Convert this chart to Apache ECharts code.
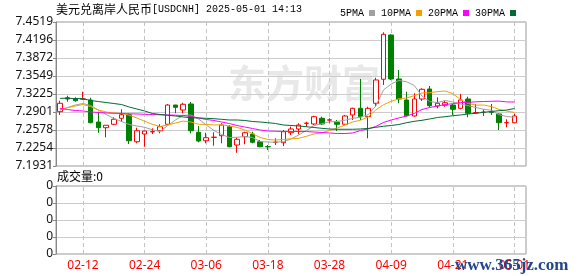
<!DOCTYPE html>
<html><head><meta charset="utf-8">
<script src="https://cdn.jsdelivr.net/npm/echarts/dist/echarts.min.js"></script>
<style>html,body{margin:0;padding:0;background:#fff}#c{width:578px;height:276px}</style>
</head><body><div id="c"></div>
<script>
// ---- data ----
const dates = ['02-07','02-10','02-11','02-12','02-13','02-14','02-17','02-18','02-19','02-20','02-21','02-24','02-25','02-26','02-27','02-28',
'03-03','03-04','03-05','03-06','03-07','03-10','03-11','03-12','03-13','03-14','03-17','03-18','03-19','03-20','03-21','03-24','03-25','03-26','03-27','03-28','03-31',
'04-01','04-02','04-03','04-04','04-07','04-08','04-09','04-10','04-11','04-14','04-15','04-16','04-17','04-18','04-21','04-22','04-23','04-24','04-25','04-28','04-29','04-30',
'05-01',''];
const openP  = [7.2907,7.3158,7.3135,7.3132,7.3117,7.2722,7.2619,7.2681,7.2789,7.2853,7.2367,7.2506,7.2545,7.2565,7.2681,7.3027,7.2937,7.3045,7.2537,7.2385,
7.2445,7.2475,7.2637,7.2308,7.2457,7.2506,7.2367,7.2280,7.2355,7.2349,7.2529,7.2596,7.2697,7.2686,7.2789,7.2756,7.2717,7.2681,7.2848,7.2968,
7.2817,7.3058,7.3490,7.4285,7.3495,7.3117,7.2830,7.3135,7.3315,7.3009,7.3022,7.3027,7.2968,7.3135,7.2887,7.2895,7.2899,7.2866,7.2707,7.2709];
const closeP = [7.3058,7.3135,7.3104,7.3137,7.2709,7.2619,7.2663,7.2771,7.2853,7.2385,7.2565,7.2560,7.2549,7.2637,7.3027,7.2986,7.3040,7.2565,7.2380,7.2439,
7.2449,7.2668,7.2277,7.2411,7.2529,7.2357,7.2277,7.2276,7.2359,7.2547,7.2596,7.2668,7.2701,7.2817,7.2686,7.2760,7.2681,7.2830,7.2968,7.2817,
7.2968,7.3477,7.4298,7.3495,7.3135,7.2835,7.3135,7.3310,7.3015,7.3058,7.3068,7.2950,7.3117,7.2879,7.2891,7.2899,7.2895,7.2709,7.2711,7.2830];
const lowP   = [7.2848,7.3086,7.3086,7.3117,7.2699,7.2529,7.2447,7.2668,7.2727,7.2326,7.2339,7.2277,7.2506,7.2519,7.2668,7.2879,7.2879,7.2519,7.2357,7.2339,
7.2295,7.2339,7.2267,7.2169,7.2321,7.2339,7.2267,7.2218,7.2308,7.2290,7.2488,7.2501,7.2637,7.2668,7.2668,7.2699,7.2560,7.2668,7.2758,7.2758,
7.2429,7.2996,7.3387,7.3477,7.3058,7.2817,7.2817,7.3099,7.2978,7.2968,7.2996,7.2848,7.2950,7.2807,7.2866,7.2830,7.2848,7.2578,7.2627,7.2709];
const highP  = [7.3104,7.3194,7.3166,7.3266,7.3158,7.2907,7.2666,7.2807,7.2950,7.2879,7.2619,7.2563,7.2609,7.2681,7.3045,7.3030,7.3068,7.3081,7.2650,7.2529,
7.2537,7.2699,7.2668,7.2447,7.2547,7.2547,7.2398,7.2308,7.2429,7.2578,7.2637,7.2699,7.2727,7.2835,7.2817,7.2789,7.2758,7.2848,7.2978,7.3495,
7.2996,7.3518,7.4334,7.4298,7.3656,7.3266,7.3238,7.3328,7.3369,7.3166,7.3104,7.3045,7.3225,7.3176,7.3045,7.2950,7.3045,7.2879,7.2771,7.2866];
const ma5  = [7.2937,7.2982,7.3027,7.3054,7.3018,7.2937,7.2857,7.2785,7.2731,7.2677,7.2650,7.2627,7.2582,7.2551,7.2659,7.2758,7.2839,7.2848,7.2776,7.2668,
7.2569,7.2497,7.2443,7.2447,7.2461,7.2443,7.2371,7.2362,7.2359,7.2368,7.2416,7.2488,7.2569,7.2659,7.2691,7.2725,7.2731,7.2754,7.2785,7.2808,
7.2851,7.3009,7.3297,7.3405,7.3468,7.3446,7.3378,7.3189,7.3090,7.3070,7.3108,7.3081,7.3045,7.3015,7.2982,7.2950,7.2934,7.2853,7.2821,7.2808];
const ma10 = [7.2937,7.2979,7.3009,7.3036,7.2997,7.2937,7.2902,7.2884,7.2875,7.2844,7.2794,7.2736,7.2681,7.2641,7.2668,7.2704,7.2738,7.2722,7.2681,7.2679,
7.2668,7.2672,7.2650,7.2625,7.2578,7.2512,7.2443,7.2407,7.2398,7.2407,7.2422,7.2429,7.2465,7.2508,7.2528,7.2569,7.2614,7.2668,7.2722,7.2753,
7.2812,7.2937,7.3031,7.3094,7.3139,7.3153,7.3196,7.3243,7.3248,7.3268,7.3279,7.3231,7.3126,7.3054,7.3025,7.3027,7.3000,7.2948,7.2918,7.2894];
const ma20 = [7.2964,7.2946,7.2928,7.2920,7.2902,7.2893,7.2884,7.2878,7.2875,7.2869,7.2866,7.2860,7.2857,7.2851,7.2848,7.2844,7.2839,7.2821,7.2794,7.2767,
7.2749,7.2722,7.2695,7.2659,7.2632,7.2605,7.2578,7.2560,7.2555,7.2551,7.2551,7.2551,7.2551,7.2542,7.2533,7.2524,7.2515,7.2515,7.2524,7.2569,
7.2596,7.2641,7.2713,7.2758,7.2794,7.2830,7.2875,7.2946,7.2982,7.3009,7.3036,7.3051,7.3070,7.3074,7.3085,7.3090,7.3094,7.3097,7.3083,7.3081];
const ma30 = [7.3148,7.3148,7.3144,7.3141,7.3108,7.3090,7.3072,7.3054,7.3036,7.2991,7.2955,7.2920,7.2875,7.2857,7.2842,7.2830,7.2812,7.2799,7.2794,7.2788,
7.2781,7.2770,7.2758,7.2758,7.2749,7.2731,7.2722,7.2709,7.2695,7.2668,7.2659,7.2650,7.2637,7.2623,7.2608,7.2596,7.2591,7.2591,7.2591,7.2596,
7.2605,7.2627,7.2645,7.2659,7.2677,7.2709,7.2734,7.2752,7.2776,7.2803,7.2817,7.2835,7.2848,7.2866,7.2878,7.2896,7.2911,7.2925,7.2937,7.2964];
const volume = [0,0,0,0,0,0,0,0,0,0,0,0,0,0,0,0,0,0,0,0,0,0,0,0,0,0,0,0,0,0,0,0,0,0,0,0,0,0,0,0,0,0,0,0,0,0,0,0,0,0,0,0,0,0,0,0,0,0,0,0];
const tickDates = ['02-12','02-24','03-06','03-18','03-28','04-09','04-21','05-01'];
const yTickLabels = ['7.1931','7.2254','7.2578','7.2901','7.3225','7.3549','7.3872','7.4196','7.4519'];
const volTickLabels = ['0','0','0','0','0'];
const yMin = 7.1931, yMax = 7.4519;

// ---- chart ----
const yStep = (yMax - yMin) / (yTickLabels.length - 1);
const candles = openP.map((o, i) => [o, closeP[i], lowP[i], highP[i]]);
const vLines = {
  silent: true, z: 1, symbol: ['none', 'none'], label: { show: false },
  lineStyle: { color: '#c4c4c4', type: [4, 3], width: 1 },
  emphasis: { disabled: true },
  data: tickDates.map(d => ({ xAxis: d }))
};
const chart = echarts.init(document.getElementById('c'), null, { renderer: 'canvas' });
const maLine = (name, data, color) => ({
  name, type: 'line', data, xAxisIndex: 0, yAxisIndex: 0, z: 3,
  showSymbol: false, symbol: 'none', smooth: false,
  lineStyle: { color, width: 1 }, itemStyle: { color }
});
chart.setOption({
  animation: false,
  backgroundColor: '#ffffff',
  legend: {
    left: 335, top: 3, align: 'right', icon: 'rect', itemWidth: 6, itemHeight: 6, itemGap: 6,
    textStyle: { fontFamily: 'Liberation Mono', fontSize: 10, color: '#000' },
    data: ['5PMA', '10PMA', '20PMA', '30PMA']
  },
  grid: [
    { left: 56, top: 22, width: 470, height: 144, show: true, borderColor: '#999999', borderWidth: 1 },
    { left: 56, top: 186, width: 470, height: 68, show: true, borderColor: '#999999', borderWidth: 1 }
  ],
  xAxis: [
    { type: 'category', gridIndex: 0, data: dates, boundaryGap: true,
      axisLine: { show: false }, axisTick: { show: false }, axisLabel: { show: false }, splitLine: { show: false } },
    { type: 'category', gridIndex: 1, data: dates, boundaryGap: true,
      axisLine: { show: false }, axisTick: { show: false }, splitLine: { show: false },
      axisLabel: { color: '#ff0000', fontSize: 12, fontFamily: 'Noto Sans', margin: 6,
        interval: (i, v) => tickDates.indexOf(v) >= 0 } }
  ],
  yAxis: [
    { type: 'value', gridIndex: 0, min: yMin, max: yMax, interval: yStep,
      axisLine: { show: true, lineStyle: { color: '#888', width: 1 } },
      axisTick: { show: true, length: 3, lineStyle: { color: '#888' } },
      axisLabel: { color: '#111', fontSize: 12, fontFamily: 'Noto Sans', margin: 3,
        formatter: v => yTickLabels[Math.round((v - yMin) / yStep)] },
      splitLine: { show: true, lineStyle: { color: '#cccccc', width: 1 } } },
    { type: 'value', gridIndex: 1, min: 0, max: volTickLabels.length - 1, interval: 1,
      axisLine: { show: true, lineStyle: { color: '#888', width: 1 } },
      axisTick: { show: true, length: 3, lineStyle: { color: '#888' } },
      axisLabel: { color: '#111', fontSize: 12, fontFamily: 'Noto Sans', margin: 3,
        formatter: v => volTickLabels[Math.round(v)] },
      splitLine: { show: true, lineStyle: { color: '#cccccc', width: 1 } } }
  ],
  graphic: [
    { type: 'text', left: 228, top: 64, z: -10, silent: true,
      style: { text: '东方财富', font: 'bold 38px "Noto Sans CJK SC"', fill: '#e8e8e8' } },
    { type: 'text', left: 56, top: 3, silent: true,
      style: { text: '{a|美元兑离岸人民币}{b|[USDCNH] 2025-05-01 14:13}',
        rich: { a: { fontFamily: 'Noto Sans CJK SC', fontSize: 12, fill: '#000' },
                b: { fontFamily: 'Liberation Mono', fontSize: 10, fill: '#000' } } } },
    { type: 'text', left: 57, top: 170, silent: true,
      style: { text: '成交量:0', font: '12px "Noto Sans CJK SC"', fill: '#000' } },
    { type: 'text', left: 455, top: 257, z: 100, silent: true,
      style: { text: 'www.365jz.com', font: 'bold 17px "Liberation Serif"', fill: '#23468c' } }
  ],
  series: [
    { name: 'K', type: 'candlestick', data: candles, xAxisIndex: 0, yAxisIndex: 0, z: 2, barWidth: 5,
      itemStyle: { color: '#ffffff', color0: '#008000', borderColor: '#ff0000', borderColor0: '#008000', borderWidth: 1 },
      markLine: vLines },
    maLine('5PMA', ma5, '#a0a0a0'),
    maLine('10PMA', ma10, '#f5a000'),
    maLine('20PMA', ma20, '#ff00ff'),
    maLine('30PMA', ma30, '#006b35'),
    { name: 'vol', type: 'bar', data: volume, xAxisIndex: 1, yAxisIndex: 1, markLine: vLines }
  ]
});
</script></body></html>
